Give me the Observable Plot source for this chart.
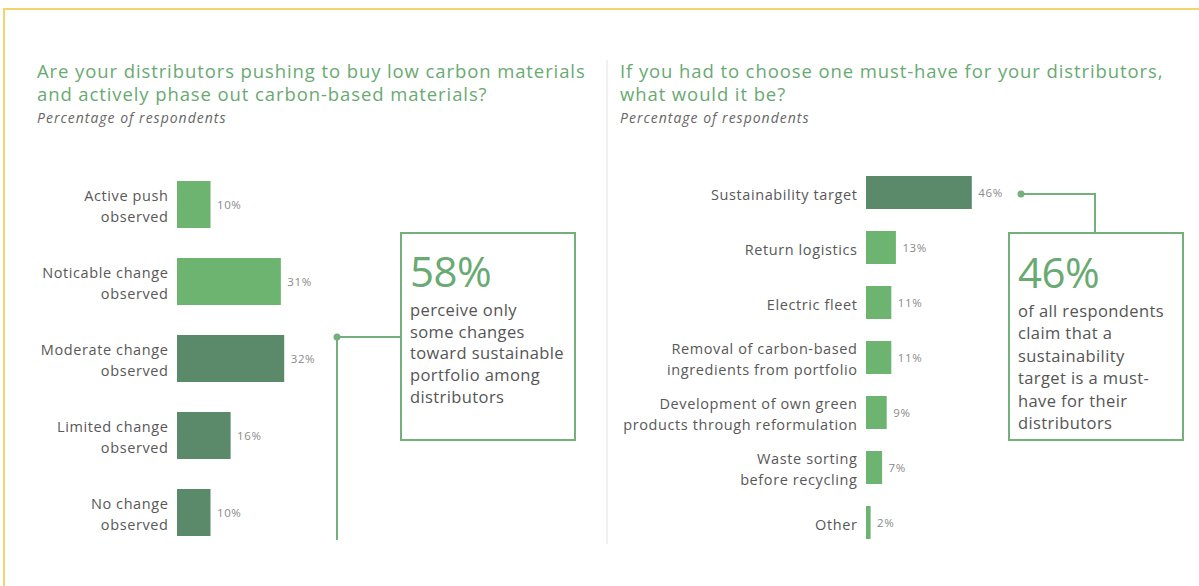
<!DOCTYPE html>
<html>
<head>
<meta charset="utf-8">
<script src="https://cdn.jsdelivr.net/npm/d3@7"></script>
<script src="https://cdn.jsdelivr.net/npm/@observablehq/plot@0.6"></script>
<style>
  html, body { margin: 0; padding: 0; background: #fff; }
  #page { position: relative; width: 1199px; height: 586px; overflow: hidden; font-family: "Open Sans", sans-serif; background: #fff; }
  .abs { position: absolute; }
  .title { color: #69aa72; font-size: 18.5px; line-height: 23px; letter-spacing: 0.9px; white-space: nowrap; }
  .subtitle { color: #666; font-size: 14px; font-style: italic; margin-top: 3px; letter-spacing: 1px; }
  .box { position: absolute; box-sizing: border-box; border: 2px solid #74b07c; padding: 9px 4px 0 8px; color: #555; }
  .big { color: #69aa72; font-size: 42px; line-height: 56px; letter-spacing: -0.5px; }
  .boxtext { font-size: 16.5px; line-height: 21.7px; letter-spacing: 0.4px; white-space: nowrap; }
  .chart text { letter-spacing: 0.6px; }
</style>
</head>
<body>
<div id="page">
  <div class="abs" style="left:3px;top:8px;width:1196px;height:2px;background:#f1d46c;"></div>
  <div class="abs" style="left:3px;top:8px;width:2px;height:578px;background:#f1d46c;"></div>
  <div class="abs" style="left:606px;top:60px;width:2px;height:484px;background:#f0f0f0;"></div>

  <div class="abs" style="left:37px;top:59px;">
    <div class="title">Are your distributors pushing to buy low carbon materials<br>and actively phase out carbon-based materials?</div>
    <div class="subtitle">Percentage of respondents</div>
  </div>
  <div class="abs" style="left:620px;top:59px;">
    <div class="title">If you had to choose one must-have for your distributors,<br>what would it be?</div>
    <div class="subtitle">Percentage of respondents</div>
  </div>

  <div id="leftChart" class="abs chart" style="left:0px;top:140px;"></div>
  <div id="rightChart" class="abs chart" style="left:600px;top:140px;"></div>

  <svg class="abs" style="left:0;top:0;pointer-events:none;" width="1199" height="586">
    <g stroke="#74b07c" stroke-width="2" fill="none">
      <path d="M337,337 H400 M337,337 V540"></path>
      <path d="M1021,194 H1095 V232"></path>
    </g>
    <circle cx="337" cy="337" r="3.5" fill="#74b07c"></circle>
    <circle cx="1021" cy="194" r="3.5" fill="#74b07c"></circle>
  </svg>

  <div class="box" style="left:400px;top:232px;width:176px;height:209px;">
    <div class="big">58%</div>
    <div class="boxtext">perceive only<br>some changes<br>toward sustainable<br>portfolio among<br>distributors</div>
  </div>
  <div class="box" style="left:1008px;top:232px;width:176px;height:209px;">
    <div class="big" style="margin-top:1px;">46%</div>
    <div class="boxtext" style="line-height:22.4px;">of all respondents<br>claim that a<br>sustainability<br>target is a must-<br>have for their<br>distributors</div>
  </div>
</div>

<script>
// ---- Data ----
const leftCategories = [
  "Active push\nobserved",
  "Noticable change\nobserved",
  "Moderate change\nobserved",
  "Limited change\nobserved",
  "No change\nobserved"
];
const leftValues = [10, 31, 32, 16, 10];
const leftGroups = ["other", "other", "highlight", "highlight", "highlight"];

const rightCategories = [
  "Sustainability target",
  "Return logistics",
  "Electric fleet",
  "Removal of carbon-based\ningredients from portfolio",
  "Development of own green\nproducts through reformulation",
  "Waste sorting\nbefore recycling",
  "Other"
];
const rightValues = [46, 13, 11, 11, 9, 7, 2];
const rightGroups = ["highlight", "other", "other", "other", "other", "other", "other"];

const leftData = leftCategories.map((c, i) => ({category: c, value: leftValues[i], group: leftGroups[i]}));
const rightData = rightCategories.map((c, i) => ({category: c, value: rightValues[i], group: rightGroups[i]}));

const colorScale = {domain: ["highlight", "other"], range: ["#5a8a6a", "#6cb470"]};
const baseStyle = {fontFamily: "Open Sans, sans-serif", background: "transparent", overflow: "visible"};

function makeChart(data, cats, opts) {
  return Plot.plot({
    width: opts.width,
    height: 446,
    marginLeft: opts.marginLeft,
    marginRight: opts.marginRight,
    marginTop: opts.marginTop,
    marginBottom: opts.marginBottom,
    style: baseStyle,
    x: {domain: opts.xDomain, axis: null},
    y: {domain: cats, padding: opts.padding, axis: null},
    color: colorScale,
    marks: [
      Plot.barX(data, {x: "value", y: "category", fill: "group"}),
      Plot.text(data, {x: 0, y: "category", text: "category", textAnchor: "end", dx: -9,
        fontSize: opts.labelSize, fill: "#585858", lineHeight: opts.lineHeight}),
      Plot.text(data, {x: "value", y: "category", text: d => d.value + "%", textAnchor: "start",
        dx: 6, fontSize: 11.5, fill: "#8a8a8a"})
    ]
  });
}

document.getElementById("leftChart").append(makeChart(leftData, leftCategories, {
  width: 600, marginLeft: 177, marginRight: 289, marginTop: 9.5, marginBottom: 18.5,
  xDomain: [0, 40], padding: 0.394, labelSize: 14.5, lineHeight: 1.45
}));

document.getElementById("rightChart").append(makeChart(rightData, rightCategories, {
  width: 599, marginLeft: 266, marginRight: 218, marginTop: 12.9, marginBottom: 23.9,
  xDomain: [0, 50], padding: 0.4, labelSize: 14.5, lineHeight: 1.45
}));
</script>
</body>
</html>
